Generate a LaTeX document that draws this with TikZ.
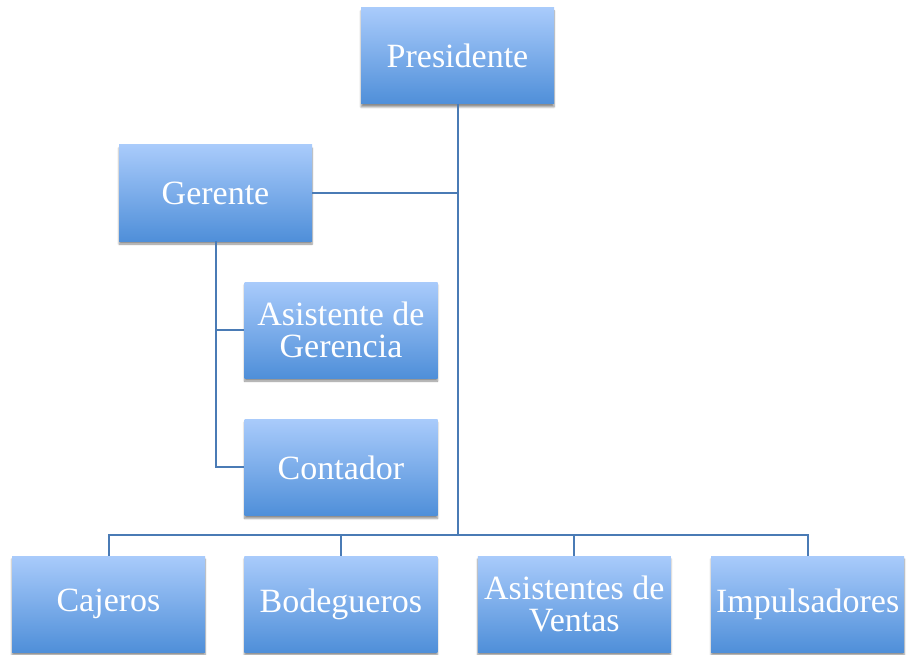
\documentclass[tikz,border=0pt]{standalone}
\usepackage{fontspec}
\setmainfont{Liberation Serif}
\usetikzlibrary{positioning,shadows.blur}
\definecolor{boxtop}{HTML}{A9CBFB}
\definecolor{boxbot}{HTML}{4F8FD9}
\definecolor{linkcol}{HTML}{4A7BB5}
\begin{document}
\begin{tikzpicture}[x=1pt,y=-1pt,node distance=40pt,
    puesto/.style={rectangle,minimum width=193pt,minimum height=96pt,inner sep=2pt,
      top color=boxtop,bottom color=boxbot,text=white,align=center,
      font=\fontsize{34}{32}\selectfont,
      blur shadow={shadow xshift=0pt,shadow yshift=-3pt,shadow blur steps=6,shadow opacity=45}},
    link/.style={draw=linkcol,line width=2pt}]

            \useasboundingbox (0,0) rectangle (909,655);

            \node[puesto] (pres) at (457.5,56) {Presidente};

            \node[puesto] (ger) at (215.5,193) {Gerente};

            \node[puesto] (asis) at (341,330) {Asistente de\\Gerencia};

            \node[puesto] (cont) [below=41pt of asis] {Contador};

            \node[puesto] (caj) at (108.5,604) {Cajeros};

            \node[puesto] (bod) [right=39pt of caj] {Bodegueros};

            \node[puesto] (ven) [right=of bod] {Asistentes de\\Ventas};

            \node[puesto] (imp) [right=of ven] {Impulsadores};

            \coordinate (bus) at (457.5,535);

            \path[link] (pres.south) -- (pres.south |- bus)

                        (ger.east) -- (ger.east -| pres.south)

                        (ger.south) |- (cont.west)

                        (ger.south |- asis.west) -- (asis.west)

                        (caj.north) -- (caj.north |- bus) -- (imp.north |- bus) -- (imp.north)

                        (bod.north) -- (bod.north |- bus)

                        (ven.north) -- (ven.north |- bus);

        \end{tikzpicture}
\end{document}
